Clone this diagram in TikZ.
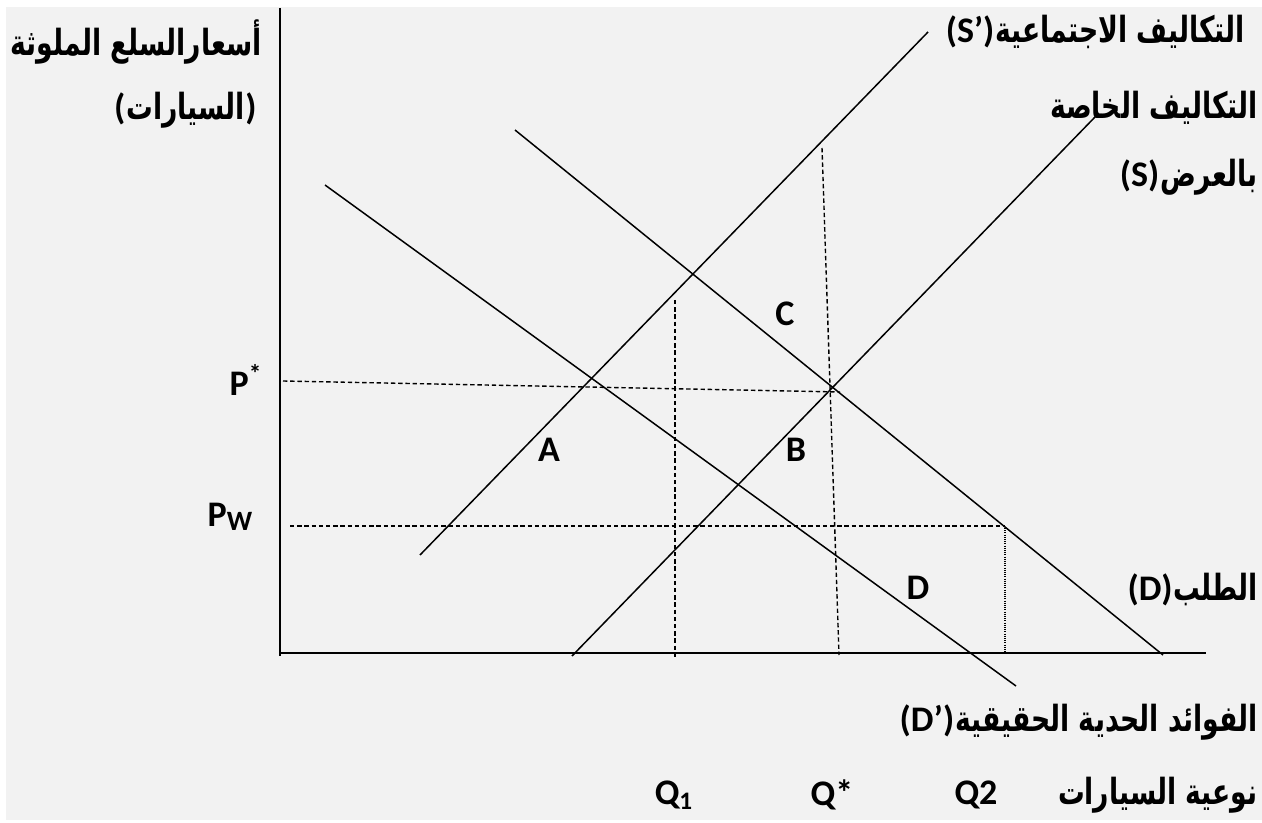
\documentclass[tikz,border=0pt]{standalone}
\usepackage{fontspec}
\setmainfont{Carlito}
\newfontfamily\arabicfont[Script=Arabic, FakeStretch=0.74]{DejaVu Sans}
\TeXXeTstate=1
\usepackage{tikz}
\usetikzlibrary{positioning}
\definecolor{paper}{HTML}{F2F2F2}
\tikzset{
axis/.style = {line width=1.2pt},
curve/.style = {line width=0.75pt},
guide/.style = {line width=0.7pt, dash pattern=on 2.2pt off 1.4pt},
dotguide/.style = {line width=0.55pt, dash pattern=on 0.5pt off 0.6pt},
lbl/.style = {font=\fontsize{18}{20}\selectfont\bfseries, inner sep=0pt},
arlbl/.style = {font=\fontsize{18}{20}\selectfont\bfseries, inner sep=0pt, anchor=east}
}
\newcommand{\ar}[1]{{\arabicfont\beginR #1\endR}}
\newcommand{\spot}[2]{\coordinate (#1) at (#2);}
\newcommand{\seg}[2]{\draw[curve] (#1) -- (#2);}
\newcommand{\dashseg}[2]{\draw[guide] (#1) -- (#2);}

\begin{document}
\begin{tikzpicture}[x=0.5pt, y=-0.5pt]
        \useasboundingbox (0,0) rectangle (1262,823);
        \fill[paper] (6,7) rectangle (1262,820);
        % axes
        \spot{ytop}{280,8}
        \spot{orig}{280,656}
        \spot{xend}{1206,653}
        \draw[axis] (ytop) -- (orig);
        \draw[axis] (280,653) -- (xend);
        % supply and demand curves
        \spot{sca}{420,555}
        \spot{scb}{928,32}
        \spot{spa}{572,656}
        \spot{spb}{1095,117}
        \spot{dda}{515,130}
        \spot{ddb}{1163,655}
        \spot{mba}{325,185}
        \spot{mbb}{1016,686}
        \seg{sca}{scb}
        \seg{spa}{spb}
        \seg{dda}{ddb}
        \seg{mba}{mbb}
        % guide lines
        \spot{pst}{283,381}
        \spot{psb}{840,392}
        \spot{pwa}{290,526}
        \spot{pwb}{1005,526}
        \spot{qoa}{675,300}
        \spot{qob}{675,657}
        \spot{qsa}{822,148}
        \spot{qsb}{839,655}
        \spot{qta}{1005,528}
        \spot{qtb}{1005,655}
        \dashseg{pst}{psb}
        \dashseg{pwa}{pwb}
        \dashseg{qoa}{qob}
        \dashseg{qsa}{qsb}
        \draw[dotguide] (qta) -- (qtb);
        % letters
        \node[lbl] (A) at (549,450) {A};
        \node[lbl] (B) at (796,450) {B};
        \node[lbl] (C) at (785,314) {C};
        \node[lbl] (D) at (918,588) {D};
        \node[lbl] (pstar) at (246,380) {P\textsuperscript{*}};
        \node[lbl] (pw) at (230,517) {P\raisebox{-0.2ex}{\fontsize{14}{15}\selectfont W}};
        \node[lbl] (qone) at (674,795) {Q\textsubscript{1}};
        \node[lbl] (qstar) at (832,795) {Q*};
        \node[lbl] (qtwo) at (976,795) {Q2};
        % arabic texts
        \node[arlbl] (price) at (262,42) {\ar{أسعارالسلع الملوثة}};
        \node[arlbl] (cars) at (245,110) {\ar{السيارات}};
        \node[lbl, base left=0pt of cars] (carsopen) {(};
        \node[lbl, base right=0pt of cars] (carsclose) {)};
        \node[arlbl] (social) at (1245,32) {\ar{التكاليف الاجتماعية}};
        \node[lbl, base left=0pt of social] (socialtag) {(S’)};
        \node[arlbl] (private) at (1258,108) {\ar{التكاليف الخاصة}};
        \node[arlbl] (supply) at (1258,177) {\ar{بالعرض}};
        \node[lbl, base left=0pt of supply] (supplytag) {(S)};
        \node[arlbl] (demand) at (1258,590) {\ar{الطلب}};
        \node[lbl, base left=0pt of demand] (demandtag) {(D)};
        \node[arlbl] (benefit) at (1258,722) {\ar{الفوائد الحدية الحقيقية}};
        \node[lbl, base left=0pt of benefit] (benefittag) {(D’)};
        \node[arlbl] (kind) at (1258,795) {\ar{نوعية السيارات}};
\end{tikzpicture}
\end{document}
